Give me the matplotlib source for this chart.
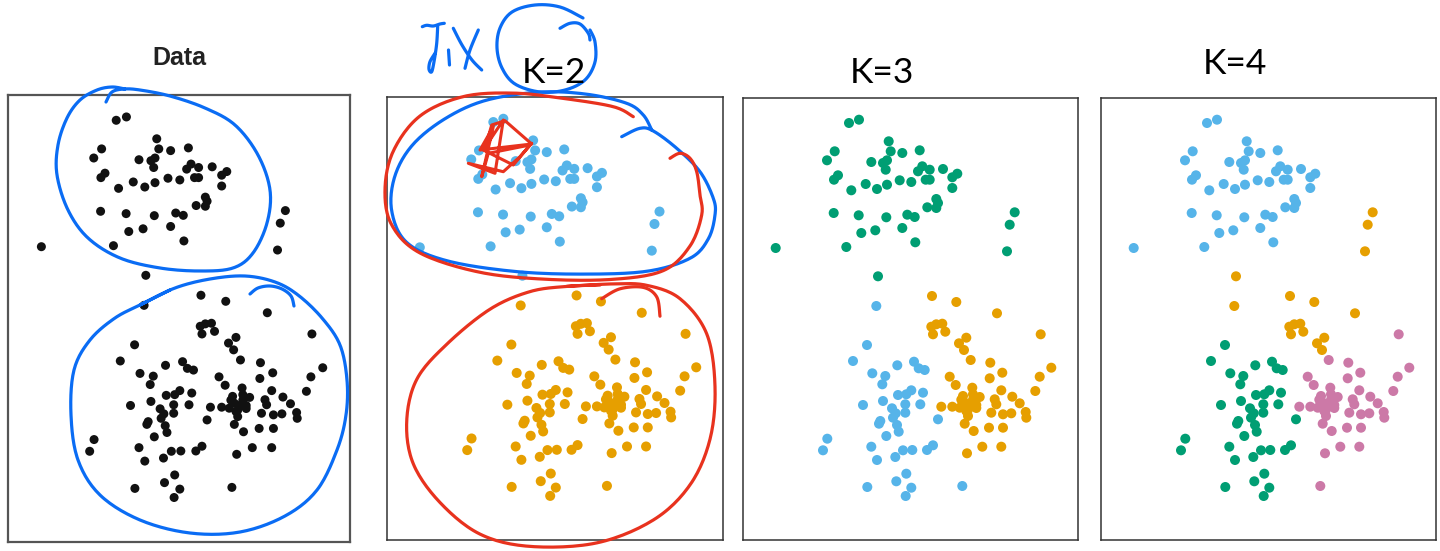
import numpy as np
import matplotlib
matplotlib.use("Agg")
import matplotlib.pyplot as plt
from matplotlib import font_manager

# ---------------- data (feature 1, feature 2) ----------------
feat_x = [
    106, 116, 145.7, 91.7, 84, 147.7, 159.3, 176.7, 128.3, 140, 144, 142.7, 179.3, 175, 186.7, 200,
    214.3, 209.3, 95, 91, 182.7, 186.7, 156.7, 168.3, 122.7, 144, 134, 108.3, 209.3, 193.3, 195,
    184.3, 193.3, 90.7, 115.7, 143.3, 164.3, 171.7, 159.3, 132.3, 118.3, 172.3, 32.7, 103.3,
    271.7, 266.7, 264, 135,
    133.3, 124, 110, 154.3, 171, 175.7, 181.7, 129.3, 142.3, 139.3, 155, 163.3, 168.3, 180, 120,
    140, 162.3, 177.3, 149, 152.7, 162.3, 150, 137.3, 136, 154, 155.7, 195, 143.3, 84.3, 80, 128.3,
    134, 152.3, 160, 169.3, 184, 190, 163.3, 153.3, 168.3, 162.7, 124.3, 219.3,
    189, 213.3, 254, 188.3, 193.3, 199.3, 202.3, 190, 297.7, 223.3, 216, 221, 227.7, 247.3, 259.3,
    308.3, 206.7, 246.7, 296.7, 212.7, 229.3, 258.3, 292.3, 220, 230, 236.7, 251.7, 269.3, 198.3,
    209.3, 216.7, 221.7, 226.7, 233.3, 223.3, 253.3, 276.7, 225, 248.3, 260, 268.3, 282.7, 283.3,
    221.7, 230.7, 246, 260, 239.3, 258.3, 224, 218.3, 230, 225, 233.3,
]
feat_y = [
    25, 21.7, 43.3, 53.3, 62.3, 53.3, 55, 52.3, 64, 65, 62.3, 71.7, 68.3, 73.3, 71.7, 71,
    75.7, 79.3, 77.3, 81.7, 81.7, 81.7, 82.3, 84, 86, 86.7, 91, 92.3, 90, 101, 105,
    109.3, 110, 115, 117.3, 119.3, 116.7, 119, 130, 132.3, 135, 144.3, 150, 149,
    114.3, 126.7, 153.3, 178.3,
    208, 247, 263, 267.3, 263.7, 270.3, 272, 275.3, 278, 286.3, 297, 296.3, 292.3, 294.7, 307,
    303, 306.3, 306.3, 310.3, 315.3, 314.7, 319.7, 323, 325.7, 327, 333.7, 321.3, 338, 340.7, 352.3, 348.7,
    362, 359, 352.3, 352, 352, 347.3, 375.7, 383.3, 389.7, 398, 389, 388,
    198, 204, 215.3, 228.7, 226.3, 225.7, 233.7, 236.3, 236.3, 239.7, 245.3, 252, 262, 264.7, 274.7,
    269.7, 278.7, 280.3, 278.7, 287, 289.7, 292.3, 293, 298, 296.3, 299, 301.3, 298.7, 308.7,
    308.7, 309.7, 304.7, 307, 307, 313, 306.3, 305.3, 318, 314.7, 316.3, 315.3, 314, 319.7,
    325.7, 333, 329.7, 329.7, 348.7, 348.7, 355.3, 301.7, 301.7, 311.7, 310,
]
# cluster assignments (one digit per point)
labels_k2 = ("0000000000 0000000000 0000000000 0000000000 00000000"
             "1111111111 1111111111 1111111111 1111111111 111"
             "1111111111 1111111111 1111111111 1111111111 1111111111 1111")
labels_k3 = ("0000000000 0000000000 0000000000 0000000000 00000000"
             "1111111111 1111111111 1111111111 1111111111 111"
             "2222222222 2222222222 2222222222 2222222222 2222222222 2222")
labels_k4 = ("0000000000 0000000000 0000000000 0000000000 0000 1111"
             "1222222222 2222222222 2222222222 2222222222 223"
             "11111111 3 111 3333333333 3333333333 3333333333 3333333333 33")

labels_k2 = [int(c) for c in labels_k2.replace(" ", "")]
labels_k3 = [int(c) for c in labels_k3.replace(" ", "")]
labels_k4 = [int(c) for c in labels_k4.replace(" ", "")]
assert len(feat_x) == len(feat_y) == len(labels_k2) == len(labels_k3) == len(labels_k4)

titles = ["Data", "K=2", "K=3", "K=4"]

# ---------------- styling ----------------
SKY, ORANGE, GREEN, PINK = "#56B4E9", "#E69F00", "#009E73", "#CC79A7"
pal_k2 = [SKY, ORANGE]
pal_k3 = [GREEN, SKY, ORANGE]
pal_k4 = [SKY, ORANGE, GREEN, PINK]
INK_BLUE, INK_RED = "#0a6cf4", "#e8321e"

W, H = 1440, 551
fig = plt.figure(figsize=(W / 100, H / 100), dpi=100)
fig.patch.set_facecolor("white")

names = {f.name for f in font_manager.fontManager.ttflist}
kfont = "Liberation Sans Narrow" if "Liberation Sans Narrow" in names else "Lato"


def rect(x0, y0, x1, y1):
    return [x0 / W, 1 - y1 / H, (x1 - x0) / W, (y1 - y0) / H]


frames = [(8, 95, 350, 542), (387, 97, 723, 540), (743, 98, 1078, 540), (1101, 98, 1436, 540)]
xs = np.array(feat_x)
ys = np.array(feat_y)
colour_sets = [
    ["#111111"] * len(xs),
    [pal_k2[i] for i in labels_k2],
    [pal_k3[i] for i in labels_k3],
    [pal_k4[i] for i in labels_k4],
]
sizes = [42, 52, 52, 52]

for i, fr in enumerate(frames):
    ax = fig.add_axes(rect(*fr))
    ax.scatter(xs, ys, c=colour_sets[i], s=sizes[i], linewidths=0, zorder=3)
    ax.set_xlim(0, 335)
    ax.set_ylim(442, 0)
    ax.set_xticks([])
    ax.set_yticks([])
    for sp in ax.spines.values():
        sp.set_color("#555555" if i == 0 else "#333333")
        sp.set_linewidth(1.6 if i == 0 else 1.1)

# titles
fig.text(179 / W, 1 - 65 / H, titles[0], ha="center", va="baseline",
         fontsize=18, fontweight="bold", color="#222222", family="Liberation Sans")
for t, (cx, by) in zip(titles[1:], [(554, 83), (881.5, 83), (1234.5, 74)]):
    fig.text(cx / W, 1 - by / H, t, ha="center", va="baseline",
             fontsize=25.5, color="black", family=kfont)

# ---------------- hand-drawn annotations ----------------
ov = fig.add_axes([0, 0, 1, 1])
ov.set_xlim(0, W)
ov.set_ylim(H, 0)
ov.axis("off")
ov.patch.set_alpha(0)


def smooth(pts, n=14):
    P = np.array(pts, float)
    P = np.vstack([P[0], P, P[-1]])
    out = []
    t = np.linspace(0, 1, n, endpoint=False)[:, None]
    for i in range(1, len(P) - 2):
        p0, p1, p2, p3 = P[i - 1], P[i], P[i + 1], P[i + 2]
        out.append(0.5 * (2 * p1 + (-p0 + p2) * t + (2 * p0 - 5 * p1 + 4 * p2 - p3) * t ** 2
                          + (-p0 + 3 * p1 - 3 * p2 + p3) * t ** 3))
    out.append(P[-2][None])
    return np.vstack(out)


def stroke(pts, color, lw=2.3, smooth_it=True):
    c = smooth(pts) if smooth_it else np.array(pts, float)
    ov.plot(c[:, 0], c[:, 1], color=color, lw=lw, solid_capstyle="round",
            solid_joinstyle="round", zorder=10)


blue_strokes = [
    # panel 1, upper loop
    [(106, 102), (112, 92), (124, 89), (140, 90), (170, 96), (205, 108), (235, 125), (258, 155),
     (270, 190), (267, 223), (253, 253), (233, 268), (200, 271), (160, 268), (120, 258), (88, 238),
     (68, 210), (57, 175), (58, 145), (67, 118), (80, 100), (97, 90), (112, 87), (125, 89)],
    # panel 1, lower loop
    [(140, 305), (175, 288), (210, 279), (245, 276), (275, 282), (298, 295), (322, 318), (340, 345),
     (347, 380), (346, 415), (337, 450), (317, 490), (285, 516), (240, 532), (190, 533), (140, 520),
     (100, 495), (78, 460), (71, 415), (74, 370), (90, 340), (115, 318), (142, 304), (170, 290)],
    [(250, 294), (258, 288), (270, 286), (282, 289), (291, 296), (294, 306)],
    # panel 2, upper loop
    [(621.7, 136.7), (640, 128.3), (653.3, 131), (676.7, 148.3), (700, 171.7), (713.3, 198.3),
     (715, 215), (708.3, 238.9), (690, 258.3), (646.7, 271.3), (580, 274.1), (513.3, 271.3),
     (446.7, 260.7), (406.7, 242.4), (391.7, 210.8), (395, 175.7), (413.3, 144.1), (446.7, 117.7),
     (486.7, 100.1), (540, 92.1), (586.7, 94.2), (626.7, 103.3), (643.3, 115), (651.7, 130)],
    # circle around K=2
    [(583, 18), (560, 7), (535, 5), (512, 12), (500, 28), (497, 48), (502, 68), (515, 84), (540, 92),
     (565, 90), (585, 80), (595, 62), (595, 42), (590, 30)],
    [(560, 28.3), (570, 23.3), (580, 24), (588.3, 33.3), (590, 40)],
    # "FIX"
    [(422.3, 26.7), (426.7, 25.3), (433.3, 26), (440, 24), (444.3, 23.3)],
    [(437.7, 26), (436.7, 43.3), (434.3, 60), (431.7, 71.7), (429, 69.3), (430, 61.7), (435, 53.3)],
    [(448.5, 50), (449.5, 65)],
    [(453.3, 28.3), (462, 45), (472, 60), (481.7, 70)],
    [(478.3, 30), (470, 50), (465, 68.3)],
]
red_strokes = [
    [(633.3, 116.7), (613.3, 106.7), (563.3, 98.4), (513.3, 93.1), (463.3, 96.6), (420, 116),
     (393.3, 151.1), (385, 189.7), (391.7, 224.9), (420, 253), (480, 272.3), (546.7, 279.3),
     (613.3, 279.3), (663.3, 270.6), (690, 246), (701.7, 215), (700, 195), (696.7, 171.7),
     (690, 158.3), (680, 153.3), (670, 158.3)],
    [(566.7, 286.4), (613.3, 283.9), (646.7, 285.3), (680, 298.7), (706.7, 333.8), (715, 386.5),
     (710, 439.2), (690, 484.9), (653.3, 520), (596.7, 542.9), (530, 546.4), (480, 534.1),
     (440, 502.5), (413.3, 463.8), (406.7, 421.6), (416.7, 379.5), (446.7, 344.3), (490, 309.2),
     (530, 291.6), (566.7, 286.4), (600, 285)],
    [(601.7, 298.7), (620, 288.8), (643.3, 287.4), (656.7, 296.9), (660, 316.2)],
]
scribble = [(485, 148.3), (491.7, 125), (505, 120.7), (531.7, 144), (480, 150), (493.3, 126.7),
            (481.7, 176.7), (488.3, 153.3), (530, 145), (513.3, 165), (483.3, 150), (503.3, 120),
            (495, 173.3), (468.3, 163.3), (503.3, 171.7), (520, 156.7), (531.7, 143.3)]

for s in blue_strokes:
    stroke(s, INK_BLUE)
for s in red_strokes:
    stroke(s, INK_RED)
stroke(scribble, INK_RED, lw=2.2, smooth_it=False)

fig.savefig("out.png", dpi=100, facecolor="white")
